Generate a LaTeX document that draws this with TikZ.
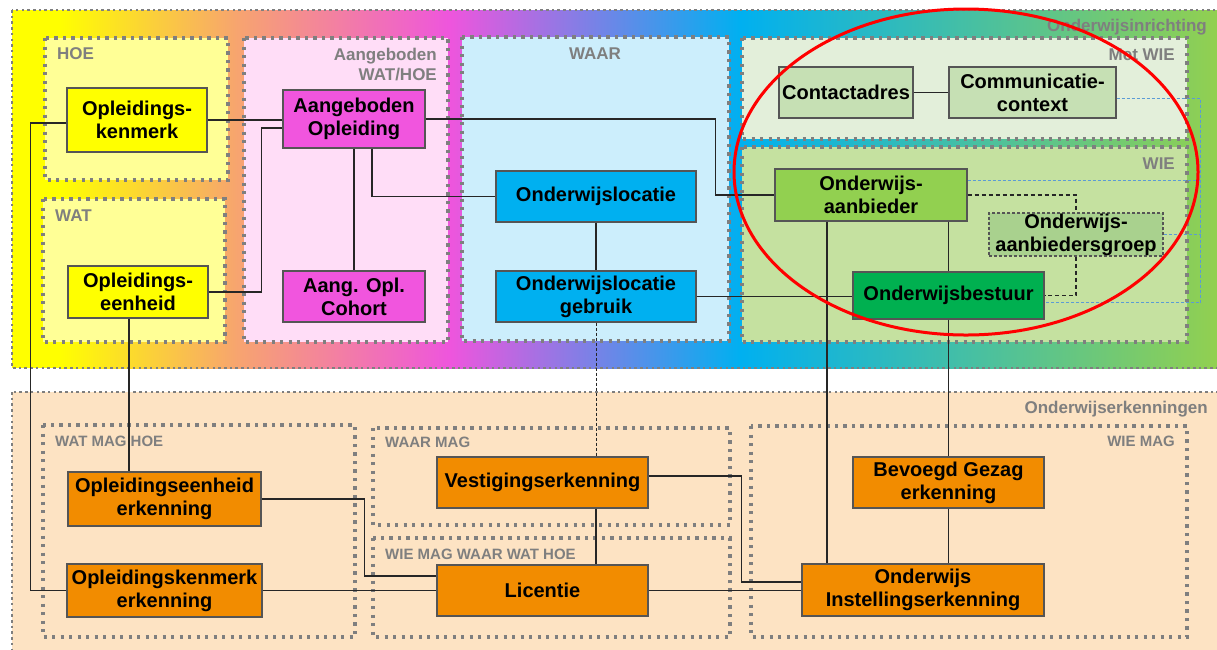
\documentclass[tikz,border=0pt]{standalone}
\usepackage{fontspec}
\setmainfont{Liberation Sans}
\usetikzlibrary{calc}
\definecolor{grayb}{HTML}{7F7F7F}
\definecolor{linec}{HTML}{262626}
\definecolor{boxline}{HTML}{555555}
\definecolor{gY}{HTML}{FFFF00}
\definecolor{gO}{HTML}{F7A56E}
\definecolor{gM}{HTML}{EE55DD}
\definecolor{gB}{HTML}{00B0F0}
\definecolor{gG}{HTML}{92D050}
\definecolor{fHoe}{HTML}{FFFF96}
\definecolor{fAang}{HTML}{FFDDF7}
\definecolor{fWaar}{HTML}{CCEEFC}
\definecolor{fMet}{HTML}{E3EFDA}
\definecolor{fWie}{HTML}{C5E1A0}
\definecolor{fErk}{HTML}{FDE3C3}
\definecolor{cYel}{HTML}{FFFF00}
\definecolor{cMag}{HTML}{F155DE}
\definecolor{cBlu}{HTML}{00B0F0}
\definecolor{cLgr}{HTML}{C6E0B4}
\definecolor{cGrn}{HTML}{92D050}
\definecolor{cGrp}{HTML}{A9D18E}
\definecolor{cDgr}{HTML}{00B050}
\definecolor{cOra}{HTML}{F28C00}
\definecolor{blued}{HTML}{5B9BD5}
\newcommand{\entfont}{\fontsize{20pt}{23pt}\selectfont\bfseries}
\newcommand{\toplabfont}{\fontsize{17pt}{20pt}\selectfont\bfseries}
\newcommand{\botlabfont}{\fontsize{15pt}{18pt}\selectfont\bfseries}
\tikzset{
  outerbox/.style={draw=grayb, line width=2pt, dash pattern=on 2.5pt off 3.2pt},
  grpbox/.style={draw=grayb, line width=3.3pt, dash pattern=on 3.3pt off 5.2pt},
  ent/.style={draw=boxline, line width=1.2pt, inner sep=0pt, align=center, font=\entfont, text=black},
  toplab/.style={text=grayb, font=\toplabfont, inner sep=0pt},
  botlab/.style={text=grayb, font=\botlabfont, inner sep=0pt},
  conn/.style={draw=linec, line width=1.2pt},
  dconn/.style={draw=linec, line width=1.1pt, dash pattern=on 4pt off 3pt},
  fconn/.style={draw=linec, line width=0.8pt, dash pattern=on 3pt off 2pt},
  bconn/.style={draw=blued, line width=0.8pt, dash pattern=on 3pt off 2pt},
}
\begin{document}
\begin{tikzpicture}[x=1pt,y=-1pt]
\useasboundingbox (0,0) rectangle (1217,649);
\clip (0,0) rectangle (1217,649);
\fill[white] (0,0) rectangle (1217,649);

% ---------- top container gradient ----------
\fill[gY] (12,10) rectangle (60.5,368);
\shade[left color=gY, right color=gO] (60,10) rectangle (235.5,368);
\shade[left color=gO, right color=gM] (235,10) rectangle (450.5,368);
\shade[left color=gM, right color=gB] (450,10) rectangle (740.5,368);
\shade[left color=gB, right color=gG] (740,10) rectangle (1218,368);
\draw[outerbox] (12,10) rectangle (1219,368);

% ---------- bottom container ----------
\fill[fErk] (12,392) rectangle (1219,652);
\draw[outerbox] (12,392) rectangle (1219,652);

% ---------- inner groups (top) ----------
\filldraw[fill=fHoe, grpbox] (45,38) rectangle (228,180);
\filldraw[fill=fHoe, grpbox] (43,199) rectangle (225,342);
\filldraw[fill=fAang, grpbox] (244,38) rectangle (448,342);
\filldraw[fill=fWaar, grpbox] (462,37) rectangle (729,341);
\filldraw[fill=fMet, grpbox] (742,38) rectangle (1187,139);
\filldraw[fill=fWie, grpbox] (742,147) rectangle (1187,342);

% ---------- inner groups (bottom) ----------
\draw[grpbox] (43,425) rectangle (355,637);
\draw[grpbox] (373,428) rectangle (730,525);
\draw[grpbox] (373,538) rectangle (730,637);
\draw[grpbox] (751,426) rectangle (1187,637);

% ---------- labels ----------
\node[toplab, anchor=base east] (lOI) at (1207,31) {Onderwijsinrichting};
\node[toplab, anchor=base west] (lHOE) at (57,59) {HOE};
\node[toplab, anchor=base west] (lWAT) at (55,221) {WAT};
\node[toplab, anchor=base east] (lAa) at (437,60) {Aangeboden};
\node[toplab, anchor=base east] (lAb) at (437,80) {WAT/HOE};
\node[toplab, anchor=base] (lWAAR) at (595,59) {WAAR};
\node[toplab, anchor=base east] (lMet) at (1175,60) {Met WIE};
\node[toplab, anchor=base east] (lWIE) at (1175,169) {WIE};
\node[toplab, anchor=base east] (lOE) at (1208,413) {Onderwijserkenningen};
\node[botlab, anchor=base west] (lWMH) at (55,446) {WAT MAG HOE};
\node[botlab, anchor=base west] (lWM) at (385,447) {WAAR\ MAG};
\node[botlab, anchor=base west] (lWMW) at (385,559) {WIE MAG WAAR WAT HOE};
\node[botlab, anchor=base east] (lWIEM) at (1175,446) {WIE MAG};

% ---------- entities ----------
\node[ent, fill=cYel, minimum width=140pt, minimum height=64pt] (okm) at (137,120) {Opleidings-\\kenmerk};
\node[ent, fill=cYel, minimum width=140pt, minimum height=52pt] (oeh) at (138,292) {Opleidings-\\eenheid};
\node[ent, fill=cMag, minimum width=142pt, minimum height=58pt] (aop) at (354,119) {Aangeboden\\Opleiding};
\node[ent, fill=cMag, minimum width=142pt, minimum height=51pt] (coh) at (354,296.5) {Aang. Opl.\\Cohort};
\node[ent, fill=cBlu, minimum width=200pt, minimum height=51pt] (olo) at (596,196.5) {Onderwijslocatie};
\node[ent, fill=cBlu, minimum width=200pt, minimum height=51pt] (olg) at (596,296.5) {Onderwijslocatie\\gebruik};
\node[ent, fill=cLgr, minimum width=134pt, minimum height=51pt] (cad) at (846,92.5) {Contactadres};
\node[ent, fill=cLgr, minimum width=167pt, minimum height=51pt] (ccx) at (1032.5,92.5) {Communicatie-\\context};
\node[ent, fill=cGrn, minimum width=192pt, minimum height=52pt] (oab) at (871,195) {Onderwijs-\\aanbieder};
\node[ent, fill=cGrp, dash pattern=on 3pt off 2pt, minimum width=174pt, minimum height=43pt] (oag) at (1076,234.5) {Onderwijs-\\aanbiedersgroep};
\node[ent, fill=cDgr, minimum width=191pt, minimum height=47pt] (obs) at (948.5,295.5) {Onderwijsbestuur};
\node[ent, fill=cOra, minimum width=193pt, minimum height=54pt] (oee) at (164.5,499) {Opleidingseenheid\\erkenning};
\node[ent, fill=cOra, minimum width=195pt, minimum height=53pt] (oke) at (164.5,590.5) {Opleidingskenmerk\\erkenning};
\node[ent, fill=cOra, minimum width=211pt, minimum height=51pt] (ves) at (542.5,482.5) {Vestigingserkenning};
\node[ent, fill=cOra, minimum width=211pt, minimum height=51pt] (lic) at (542.5,590.5) {Licentie};
\node[ent, fill=cOra, minimum width=191pt, minimum height=51pt] (bge) at (948.5,482.5) {Bevoegd Gezag\\erkenning};
\node[ent, fill=cOra, minimum width=242pt, minimum height=52pt] (oie) at (923,590) {Onderwijs\\Instellingserkenning};

% ---------- connectors ----------
\path[conn] (okm.east) -- (okm.east -| aop.west);
\path[conn] (oeh.east) -| ([xshift=-21pt,yshift=-9pt]aop.west) -- ([yshift=-9pt]aop.west);
\path[conn] (aop.south) -- (coh.north);
\path[conn] ([xshift=18pt]aop.south) |- (olo.west);
\path[conn] (aop.east) -| ([xshift=-59pt]oab.west) -- (oab.west);
\path[conn] (olo.south) -- (olg.north);
\path[conn] (olg.east) -- (olg.east -| obs.west);
\path[fconn] (olg.south) -- (olg.south |- ves.north);
\path[conn] (cad.east) -- (ccx.west);
\path[conn] ([xshift=-44pt]oab.south) -- ([xshift=-44pt]oab.south |- oie.north);
\path[conn] (obs.north |- oab.south) -- (obs.north);
\path[conn] (obs.south) -- (bge.north);
\path[conn] (bge.south) -- (bge.south |- oie.north);
\path[dconn] (oab.east) -| (oag.north);
\path[dconn] (oag.south) |- (obs.east);
\path[bconn] ([yshift=-6pt]ccx.east) -- ++(84,0) |- ([yshift=-7pt]obs.east);
\path[bconn] ([yshift=15pt]oab.east) -- ++(233,0);
\path[bconn] (oag.east) -- ++(37,0);
\path[conn] ([xshift=-9pt]oeh.south) -- ([xshift=-9pt]oeh.south |- oee.north);
\path[conn] ([yshift=-3pt]okm.west) -- ++(-36,0) |- (oke.west);
\path[conn] (oee.east) -- ++(103,0) |- ([yshift=14.5pt]lic.west);
\path[conn] (oke.east) -- (lic.west);
\path[conn] ([xshift=53.5pt]ves.south) -- ([xshift=53.5pt]lic.north);
\path[conn] ([yshift=6.5pt]ves.east) -- ++(93,0) |- ([yshift=8pt]oie.west);
\path[conn] (lic.east) -- (lic.east -| oie.west);

% ---------- highlight ellipse ----------
\draw[red, line width=3pt] (966,172) ellipse [x radius=232pt, y radius=163pt];
\end{tikzpicture}
\end{document}
